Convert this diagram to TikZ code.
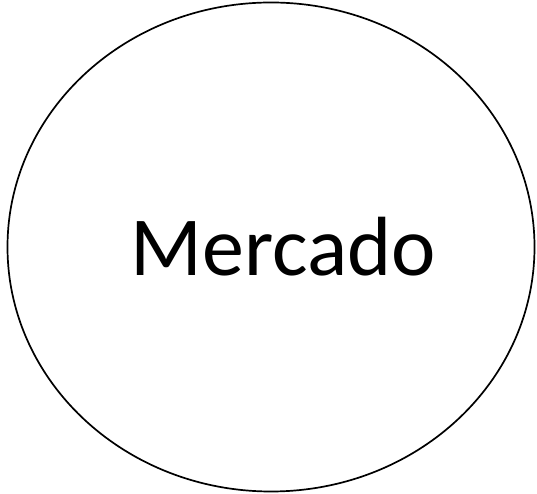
\documentclass[tikz,border=0pt]{standalone}
\usepackage{fontspec}
\setmainfont{Carlito}
\usetikzlibrary{shapes.geometric}
\begin{document}
\begin{tikzpicture}[x=1pt,y=1pt,
  oval/.style={draw=black,line width=1.7pt,ellipse,minimum width=527pt,minimum height=489pt,inner sep=0pt},
  lbl/.style={font=\fontsize{84}{92}\selectfont,inner sep=0pt}]
\useasboundingbox (0,0) rectangle (537,494);
\node[oval] (m) at (271,247) {};
\node[lbl,anchor=base] (t) at (283.5,218) {Mercado};
\end{tikzpicture}
\end{document}
